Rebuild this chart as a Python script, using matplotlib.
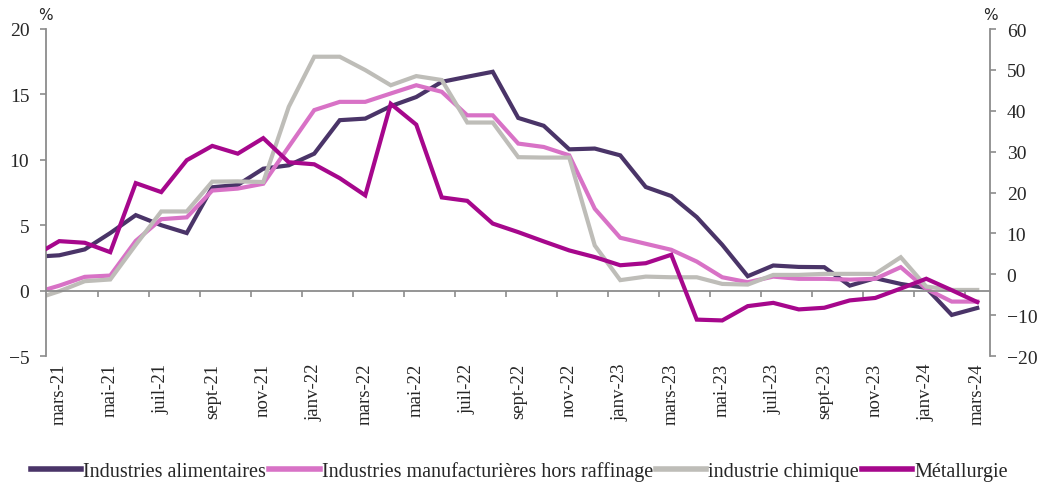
import matplotlib
matplotlib.use("Agg")
import matplotlib.pyplot as plt
import numpy as np

months = ['févr-21', 'mars-21', 'avr-21', 'mai-21', 'juin-21', 'juil-21', 'août-21', 'sept-21',
          'oct-21', 'nov-21', 'déc-21', 'janv-22', 'févr-22', 'mars-22', 'avr-22', 'mai-22',
          'juin-22', 'juil-22', 'août-22', 'sept-22', 'oct-22', 'nov-22', 'déc-22', 'janv-23',
          'févr-23', 'mars-23', 'avr-23', 'mai-23', 'juin-23', 'juil-23', 'août-23', 'sept-23',
          'oct-23', 'nov-23', 'déc-23', 'janv-24', 'févr-24', 'mars-24']

alimentaires = [2.58, 2.7, 3.15, 4.4, 5.77, 5.0, 4.4, 7.9, 8.08, 9.32, 9.58, 10.47, 13.03, 13.15,
                14.1, 14.8, 15.96, 16.35, 16.73, 13.2, 12.6, 10.8, 10.86, 10.34, 7.92, 7.23, 5.62,
                3.5, 1.1, 1.92, 1.81, 1.79, 0.38, 0.95, 0.51, 0.2, -1.86, -1.33]
manufacturieres = [-0.2, 0.38, 1.05, 1.15, 3.8, 5.46, 5.6, 7.65, 7.8, 8.17, 11.0, 13.8, 14.43, 14.43,
                   15.07, 15.7, 15.2, 13.4, 13.4, 11.24, 10.98, 10.34, 6.26, 4.04, 3.58, 3.12, 2.22,
                   1.02, 0.64, 1.07, 0.9, 0.9, 0.84, 0.9, 1.79, 0.13, -0.84, -0.84]
chimique = [-0.68, -0.05, 0.72, 0.85, 3.5, 6.05, 6.05, 8.33, 8.35, 8.3, 14.05, 17.88, 17.88, 16.86,
            15.7, 16.4, 16.1, 12.85, 12.85, 10.2, 10.17, 10.17, 3.45, 0.8, 1.07, 1.02, 1.02,
            0.51, 0.46, 1.2, 1.2, 1.28, 1.28, 1.28, 2.55, 0.31, 0.05, 0.05]
metallurgie = [4.45, 8.1, 7.7, 5.4, 22.3, 20.1, 27.9, 31.4, 29.5, 33.3, 27.4, 26.9, 23.5, 19.3,
               41.7, 36.6, 18.8, 17.96, 12.4, 10.3, 8.03, 5.83, 4.2, 2.2, 2.7, 4.77, -11.1,
               -11.3, -7.8, -7.0, -8.6, -8.2, -6.4, -5.8, -3.5, -1.1, -3.9, -6.8]

series_names = ['Industries alimentaires', 'Industries manufacturières hors raffinage',
                'industrie chimique', 'Métallurgie']
colors = ['#4A3468', '#D872C6', '#BEBDB8', '#A6078C']

left_ticks = [-5, 0, 5, 10, 15, 20]
right_ticks = [-20, -10, 0, 10, 20, 30, 40, 50, 60]

plt.rcParams['font.family'] = ['Liberation Serif', 'DejaVu Serif']
W, H = 1039, 485
fig = plt.figure(figsize=(W / 100, H / 100), dpi=100)
x0, x1, ytop, ybot = 46, 990, 30, 357
ax = fig.add_axes([x0 / W, 1 - ybot / H, (x1 - x0) / W, (ybot - ytop) / H])

x = np.arange(len(months)) - 1  # févr-21 sits just outside the plot (clipped)
lw = 3.0
l1, = ax.plot(x, alimentaires, color=colors[0], lw=lw, solid_joinstyle='miter')
l2, = ax.plot(x, manufacturieres, color=colors[1], lw=lw, solid_joinstyle='miter')
l3, = ax.plot(x, chimique, color=colors[2], lw=lw, solid_joinstyle='miter')
ax.set_ylim(-5, 20)
ax.set_yticks(left_ticks)
ax.set_xlim(-0.52, 36.5)

ax2 = ax.twinx()
l4, = ax2.plot(x, metallurgie, color=colors[3], lw=lw, solid_joinstyle='miter')
ax2.set_ylim(-20, 60)
ax2.set_yticks(right_ticks)
ax2.set_xlim(-0.52, 36.5)

spine_col = '#8C8C8C'
txt_col = '#262626'
for a in (ax, ax2):
    a.spines['top'].set_visible(False)
ax.spines['right'].set_visible(False)
ax2.spines['left'].set_visible(False)
ax2.spines['bottom'].set_visible(False)
ax.spines['left'].set_color(spine_col)
ax2.spines['right'].set_color(spine_col)
ax.spines['bottom'].set_color(spine_col)
ax.spines['bottom'].set_position(('data', 0))
for s in (ax.spines['left'], ax2.spines['right'], ax.spines['bottom']):
    s.set_linewidth(1.3)

ax.tick_params(axis='y', direction='out', length=4, width=1.2, color=spine_col,
               labelsize=14, labelcolor=txt_col, pad=8)
ax2.tick_params(axis='y', direction='out', length=4, width=1.2, color=spine_col,
                labelsize=14, labelcolor=txt_col, pad=8)
ax.set_xticks(np.arange(1.5, 36, 2))
ax.tick_params(axis='x', direction='out', length=4, width=1.2, color=spine_col, labelbottom=False)

sec = ax.secondary_xaxis('bottom')
sec.set_xticks(np.arange(0, 37, 2))
sec.set_xticklabels(months[1::2], rotation=90, fontsize=13.5, color=txt_col)
sec.tick_params(axis='x', length=0, pad=5)
sec.spines['bottom'].set_visible(False)

fig.text(45 / W, 1 - 15 / H, '%', ha='center', va='center', fontsize=11,
         family=['DejaVu Sans'], color=txt_col)
fig.text(990 / W, 1 - 15 / H, '%', ha='center', va='center', fontsize=11,
         family=['DejaVu Sans'], color=txt_col)

leg = fig.legend([l1, l2, l3, l4], series_names, loc='center', ncol=4,
                 bbox_to_anchor=(0.5, 1 - 472 / H), frameon=False, fontsize=14.5,
                 handlelength=2.5, handletextpad=0.1, columnspacing=0.15,
                 borderaxespad=0)
for t in leg.get_texts():
    t.set_color(txt_col)
for h in leg.legend_handles:
    h.set_linewidth(4.0)

fig.savefig('out.png', dpi=100)
